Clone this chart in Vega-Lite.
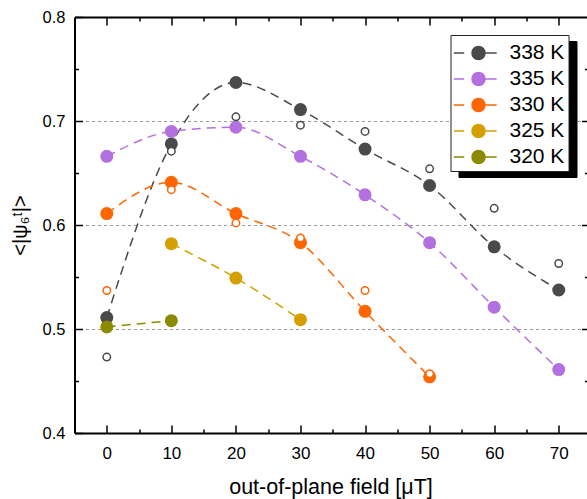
{
  "$schema": "https://vega.github.io/schema/vega-lite/v6.json",
  "width": 512,
  "height": 416,
  "autosize": {"type": "none"},
  "padding": {"left": 74.5, "top": 17, "right": 0, "bottom": 66},
  "background": "white",
  "config": {
    "view": {"stroke": null},
    "font": "Liberation Sans",
    "axis": {
      "labelFont": "Liberation Sans",
      "labelFontSize": 17,
      "labelColor": "#000",
      "titleFont": "Liberation Sans",
      "titleFontSize": 21.5,
      "titleFontWeight": "normal",
      "titleColor": "#000",
      "domainColor": "#000",
      "domainWidth": 2,
      "tickColor": "#000",
      "tickWidth": 1.5,
      "grid": false
    }
  },
  "data": {
    "values": [
      {"T": "338 K", "B": 0, "psi": 0.511, "psiOpen": 0.473},
      {"T": "338 K", "B": 10, "psi": 0.678, "psiOpen": 0.671},
      {"T": "338 K", "B": 20, "psi": 0.737, "psiOpen": 0.704},
      {"T": "338 K", "B": 30, "psi": 0.711, "psiOpen": 0.696},
      {"T": "338 K", "B": 40, "psi": 0.673, "psiOpen": 0.690},
      {"T": "338 K", "B": 50, "psi": 0.638, "psiOpen": 0.654},
      {"T": "338 K", "B": 60, "psi": 0.579, "psiOpen": 0.616},
      {"T": "338 K", "B": 70, "psi": 0.5375, "psiOpen": 0.563},
      {"T": "335 K", "B": 0, "psi": 0.666, "psiOpen": null},
      {"T": "335 K", "B": 10, "psi": 0.690, "psiOpen": null},
      {"T": "335 K", "B": 20, "psi": 0.694, "psiOpen": null},
      {"T": "335 K", "B": 30, "psi": 0.666, "psiOpen": null},
      {"T": "335 K", "B": 40, "psi": 0.629, "psiOpen": null},
      {"T": "335 K", "B": 50, "psi": 0.583, "psiOpen": null},
      {"T": "335 K", "B": 60, "psi": 0.521, "psiOpen": null},
      {"T": "335 K", "B": 70, "psi": 0.461, "psiOpen": null},
      {"T": "330 K", "B": 0, "psi": 0.611, "psiOpen": 0.537},
      {"T": "330 K", "B": 10, "psi": 0.641, "psiOpen": 0.634},
      {"T": "330 K", "B": 20, "psi": 0.611, "psiOpen": 0.602},
      {"T": "330 K", "B": 30, "psi": 0.583, "psiOpen": 0.5875},
      {"T": "330 K", "B": 40, "psi": 0.517, "psiOpen": 0.537},
      {"T": "330 K", "B": 50, "psi": 0.454, "psiOpen": 0.457},
      {"T": "325 K", "B": 10, "psi": 0.582, "psiOpen": null},
      {"T": "325 K", "B": 20, "psi": 0.549, "psiOpen": null},
      {"T": "325 K", "B": 30, "psi": 0.509, "psiOpen": null},
      {"T": "320 K", "B": 0, "psi": 0.502, "psiOpen": null},
      {"T": "320 K", "B": 10, "psi": 0.508, "psiOpen": null}
    ]
  },
  "resolve": {"axis": {"x": "independent", "y": "independent"}},
  "layer": [
    {
      "mark": {"type": "point", "opacity": 0, "filled": true},
      "encoding": {
        "x": {
          "field": "B", "type": "quantitative",
          "scale": {"domain": [-5, 74.3], "nice": false, "zero": false},
          "axis": {"orient": "bottom", "values": [5, 15, 25, 35, 45, 55, 65], "labels": false, "domain": false, "tickSize": -4, "title": null}
        },
        "y": {
          "field": "psi", "type": "quantitative",
          "scale": {"domain": [0.4, 0.8], "nice": false, "zero": false},
          "axis": {"orient": "left", "values": [0.45, 0.55, 0.65, 0.75], "labels": false, "domain": false, "tickSize": -4, "title": null}
        },
        "fill": {
          "field": "T", "type": "nominal",
          "scale": {"domain": ["338 K", "335 K", "330 K", "325 K", "320 K"], "range": ["#000", "#000", "#000", "#000", "#000"]},
          "legend": {
            "orient": "none", "legendX": 384, "legendY": 24,
            "title": null,
            "fillColor": "#000", "strokeColor": "#000",
            "padding": 4, "rowPadding": 2,
            "symbolSize": 676, "symbolOffset": 10,
            "symbolType": "M-1.9,0H-1.1M0.5,0H1.4M0.5,0A0.5,0.5 0 1,1 -0.5,0A0.5,0.5 0 1,1 0.5,0Z",
            "labelFont": "Liberation Sans", "labelFontSize": 21, "labelColor": "#000", "labelOpacity": 0, "labelOffset": 17,
            "symbolFillColor": "#000", "symbolStrokeColor": "#000"
          }
        }
      }
    },
    {
      "mark": {"type": "line", "interpolate": "monotone", "strokeDash": [9, 6], "strokeWidth": 1.5},
      "encoding": {
        "x": {
          "field": "B", "type": "quantitative",
          "scale": {"domain": [-5, 74.3], "nice": false, "zero": false},
          "axis": {
            "orient": "bottom",
            "values": [0, 10, 20, 30, 40, 50, 60, 70],
            "tickSize": -8,
            "labelPadding": 20,
            "title": "out-of-plane field [μT]",
            "titlePadding": 15
          }
        },
        "y": {
          "field": "psi", "type": "quantitative",
          "scale": {"domain": [0.4, 0.8], "nice": false, "zero": false},
          "axis": {
            "orient": "left",
            "values": [0.4, 0.5, 0.6, 0.7, 0.8],
            "format": ".1f",
            "tickSize": -8,
            "labelFontSize": 16.5,
            "labelPadding": 17.5,
            "title": "<|ψ₆ᵗ|>",
            "titleFontSize": 20,
            "titlePadding": 12
          }
        },
        "color": {
          "field": "T", "type": "nominal",
          "scale": {"domain": ["338 K", "335 K", "330 K", "325 K", "320 K"], "range": ["#4a4a4a", "#b370e0", "#ff6600", "#d4a000", "#8b8b00"]},
          "legend": {
            "orient": "top-right", "offset": 18,
            "title": null,
            "fillColor": "#fff", "strokeColor": "#222",
            "padding": 4, "rowPadding": 2,
            "symbolSize": 676, "symbolOffset": 10,
            "symbolType": "M-1.9,0H-1.1M0.5,0H1.4M0.5,0A0.5,0.5 0 1,1 -0.5,0A0.5,0.5 0 1,1 0.5,0Z",
            "symbolStrokeWidth": 1.5,
            "labelFont": "Liberation Sans", "labelFontSize": 21, "labelColor": "#000", "labelOffset": 17,
            "encode": {
              "symbols": {
                "update": {
                  "fill": {"scale": "color", "field": "value"},
                  "stroke": {"scale": "color", "field": "value"},
                  "opacity": {"value": 1}
                }
              }
            }
          }
        }
      }
    },
    {
      "mark": {"type": "point", "filled": true, "size": 169, "opacity": 1},
      "encoding": {
        "x": {
          "field": "B", "type": "quantitative",
          "scale": {"domain": [-5, 74.3], "nice": false, "zero": false},
          "axis": {"orient": "top", "values": [0, 10, 20, 30, 40, 50, 60, 70], "labels": false, "tickSize": -8, "title": null}
        },
        "y": {
          "field": "psi", "type": "quantitative",
          "scale": {"domain": [0.4, 0.8], "nice": false, "zero": false},
          "axis": {
            "orient": "right", "values": [0.5, 0.6, 0.7], "labels": false, "domain": false, "tickSize": -5,
            "grid": true, "gridColor": "#999", "gridWidth": 1, "gridDash": [3, 3], "title": null
          }
        },
        "color": {"field": "T", "type": "nominal", "legend": null}
      }
    },
    {
      "transform": [{"filter": "datum.psiOpen != null"}],
      "mark": {"type": "point", "filled": false, "fill": "white", "size": 56, "strokeWidth": 1.5, "opacity": 1},
      "encoding": {
        "x": {
          "field": "B", "type": "quantitative",
          "scale": {"domain": [-5, 74.3], "nice": false, "zero": false},
          "axis": {"orient": "top", "values": [5, 15, 25, 35, 45, 55, 65], "labels": false, "domain": false, "tickSize": -4, "title": null}
        },
        "y": {
          "field": "psiOpen", "type": "quantitative",
          "scale": {"domain": [0.4, 0.8], "nice": false, "zero": false},
          "axis": {"orient": "right", "values": [0.45, 0.55, 0.65, 0.75], "labels": false, "domain": false, "tickSize": -2, "title": null}
        },
        "color": {"field": "T", "type": "nominal", "legend": null}
      }
    }
  ]
}
